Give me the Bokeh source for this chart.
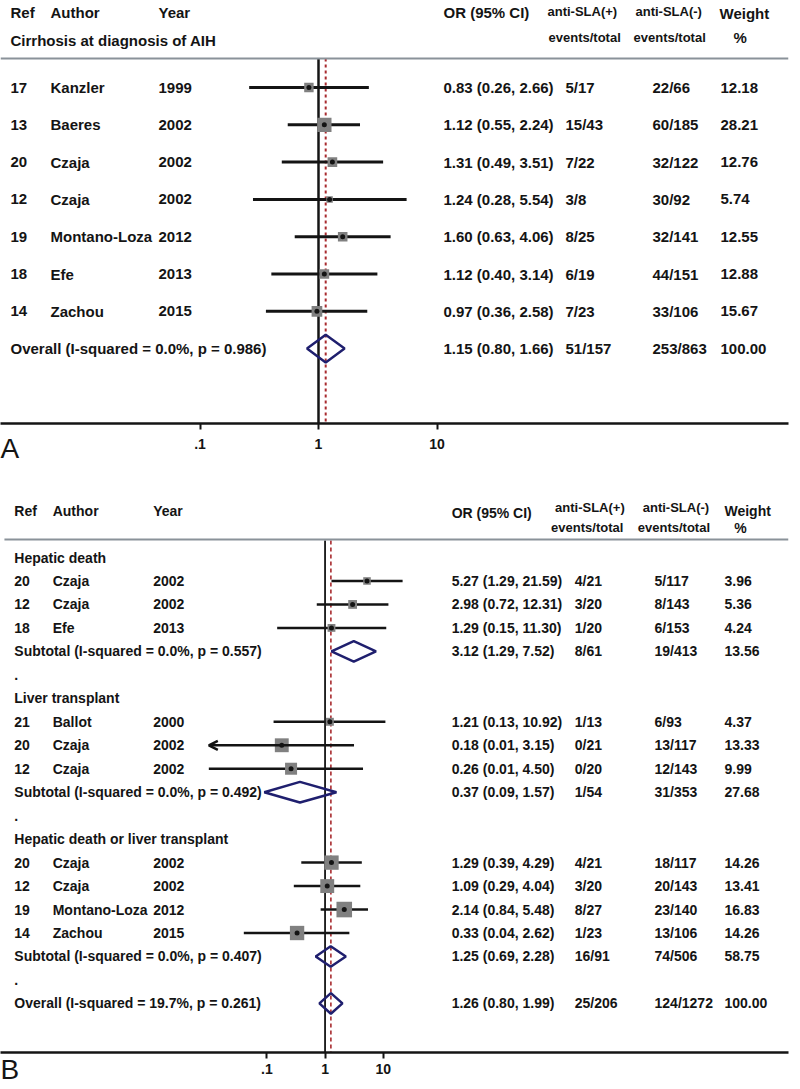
import numpy as np
from bokeh.plotting import figure
from bokeh.models import (Range1d, ColumnDataSource, FixedTicker, CustomJSTickFormatter,
                          Title, Arrow, OpenHead)
from bokeh.layouts import column
from bokeh.embed import file_html
from bokeh.resources import INLINE
from bokeh.core.properties import value

FONT = "Liberation Sans"
INK = "#141414"
NAVY = "#1f1f6e"
RED = "#a82a2e"
GREY = "#808080"
RULE = "#8a9299"

# ---------------- shared axis ----------------
ticks = [0.1, 1, 10]
tick_labels = [".1", "1", "10"]
panel_letters = ["A", "B"]

# ---------------- Panel A data ----------------
a_title = "Cirrhosis at diagnosis of AIH"
a_ref = ["17", "13", "20", "12", "19", "18", "14"]
a_author = ["Kanzler", "Baeres", "Czaja", "Czaja", "Montano-Loza", "Efe", "Zachou"]
a_year = ["1999", "2002", "2002", "2002", "2012", "2013", "2015"]
a_or = [0.83, 1.12, 1.31, 1.24, 1.60, 1.12, 0.97]
a_lci = [0.26, 0.55, 0.49, 0.28, 0.63, 0.40, 0.36]
a_uci = [2.66, 2.24, 3.51, 5.54, 4.06, 3.14, 2.58]
a_pos = ["5/17", "15/43", "7/22", "3/8", "8/25", "6/19", "7/23"]
a_neg = ["22/66", "60/185", "32/122", "30/92", "32/141", "44/151", "33/106"]
a_weight = [12.18, 28.21, 12.76, 5.74, 12.55, 12.88, 15.67]
a_ov_label = "Overall  (I-squared = 0.0%, p = 0.986)"
a_ov_or, a_ov_lci, a_ov_uci = 1.15, 0.80, 1.66
a_ov_pos, a_ov_neg, a_ov_w = "51/157", "253/863", 100.00

# ---------------- Panel B data ----------------
b_groups = ["Hepatic death", "Liver transplant", "Hepatic death or liver transplant"]
b_ref = [["20", "12", "18"], ["21", "20", "12"], ["20", "12", "19", "14"]]
b_author = [["Czaja", "Czaja", "Efe"], ["Ballot", "Czaja", "Czaja"],
            ["Czaja", "Czaja", "Montano-Loza", "Zachou"]]
b_year = [["2002", "2002", "2013"], ["2000", "2002", "2002"], ["2002", "2002", "2012", "2015"]]
b_or = [[5.27, 2.98, 1.29], [1.21, 0.18, 0.26], [1.29, 1.09, 2.14, 0.33]]
b_lci = [[1.29, 0.72, 0.15], [0.13, 0.01, 0.01], [0.39, 0.29, 0.84, 0.04]]
b_uci = [[21.59, 12.31, 11.30], [10.92, 3.15, 4.50], [4.29, 4.04, 5.48, 2.62]]
b_clipped = [[False, False, False], [False, True, False], [False, False, False, False]]
b_pos = [["4/21", "3/20", "1/20"], ["1/13", "0/21", "0/20"], ["4/21", "3/20", "8/27", "1/23"]]
b_neg = [["5/117", "8/143", "6/153"], ["6/93", "13/117", "12/143"],
         ["18/117", "20/143", "23/140", "13/106"]]
b_weight = [[3.96, 5.36, 4.24], [4.37, 13.33, 9.99], [14.26, 13.41, 16.83, 14.26]]
b_sub_label = ["Subtotal  (I-squared = 0.0%, p = 0.557)",
               "Subtotal  (I-squared = 0.0%, p = 0.492)",
               "Subtotal  (I-squared = 0.0%, p = 0.407)"]
b_sub_or = [3.12, 0.37, 1.25]
b_sub_lci = [1.29, 0.09, 0.69]
b_sub_uci = [7.52, 1.57, 2.28]
b_sub_pos = ["8/61", "1/54", "16/91"]
b_sub_neg = ["19/413", "31/353", "74/506"]
b_sub_w = [13.56, 27.68, 58.75]
b_ov_label = "Overall  (I-squared = 19.7%, p = 0.261)"
b_ov_or, b_ov_lci, b_ov_uci = 1.26, 0.80, 1.99
b_ov_pos, b_ov_neg, b_ov_w = "25/206", "124/1272", 100.00


def fmt_ci(o, l, u):
    return f"{o:.2f} ({l:.2f}, {u:.2f})"


def make_panel(g):
    """g: layout geometry in page pixels."""
    px2x = lambda px: 10 ** ((px - g["x_one"]) / g["dec"])
    py2y = lambda py: (py - g["row0"]) / g["step"]
    xr = Range1d(px2x(g["left"]), px2x(g["right"]))
    yr = Range1d(py2y(g["bottom"]), py2y(g["top"]))
    p = figure(width=800, height=g["fig_h"], x_axis_type="log", x_range=xr, y_range=yr,
               output_backend="svg", toolbar_location=None, y_axis_location=None,
               min_border_left=0, min_border_right=g["mbr"], min_border_top=0,
               min_border_bottom=g["mbb"])
    p.outline_line_color = None
    p.grid.visible = False
    p.background_fill_color = "white"
    p.border_fill_color = "white"
    ax = p.xaxis[0]
    ax.ticker = FixedTicker(ticks=ticks)
    ax.formatter = CustomJSTickFormatter(args=dict(v=ticks, l=tick_labels), code="""
        const i = v.findIndex(t => Math.abs(Math.log10(t) - Math.log10(tick)) < 1e-6);
        return i >= 0 ? l[i] : '';""")
    ax.axis_line_width = g["axw"]
    ax.axis_line_color = INK
    ax.major_tick_in = 0
    ax.major_tick_out = 6
    ax.major_tick_line_width = 2
    ax.major_tick_line_color = INK
    ax.minor_tick_line_color = None
    ax.major_label_text_font = FONT
    ax.major_label_text_font_size = "14px"
    ax.major_label_text_font_style = "bold"
    ax.major_label_text_color = INK
    ax.major_label_standoff = g["standoff"]
    # panel letter, tucked up beside the tick labels
    p.add_layout(Title(text=g["letter"], align="left", vertical_align="top",
                       standoff=g["letter_standoff"], offset=0, text_font=FONT,
                       text_font_size="28px", text_font_style="normal",
                       text_color=INK), "below")
    return p, px2x, py2y


def put_text(p, px2x, x_px, ys, texts, fs, style="bold"):
    src = ColumnDataSource(dict(x=[px2x(x_px)] * len(ys), y=list(ys), t=list(texts)))
    p.text(x="x", y="y", text="t", source=src, text_font=value(FONT),
           text_font_size=value(fs), text_font_style=style, text_color=INK,
           text_baseline="middle", text_align="left")


def draw_studies(p, rows, ors, lcis, ucis, weights, k, lw, clipped=None):
    if clipped is None:
        clipped = [False] * len(rows)
    seg = ColumnDataSource(dict(
        x0=[l for l, c in zip(lcis, clipped) if not c],
        x1=[u for u, c in zip(ucis, clipped) if not c],
        y=[r for r, c in zip(rows, clipped) if not c]))
    p.segment(x0="x0", y0="y", x1="x1", y1="y", source=seg, line_color=INK, line_width=lw)
    if any(clipped):
        arr = ColumnDataSource(dict(
            xs=[u for u, c in zip(ucis, clipped) if c],
            xe=[l for l, c in zip(lcis, clipped) if c],
            y=[r for r, c in zip(rows, clipped) if c]))
        p.add_layout(Arrow(source=arr, x_start="xs", y_start="y", x_end="xe", y_end="y",
                           line_color=INK, line_width=lw,
                           end=OpenHead(size=9, line_width=lw, line_color=INK)))
    sq = ColumnDataSource(dict(x=ors, y=rows, s=[k * np.sqrt(w) for w in weights]))
    p.scatter(x="x", y="y", size="s", marker="square", source=sq,
              fill_color=GREY, line_color=None)
    p.scatter(x=ors, y=rows, size=5, marker="circle", fill_color=INK, line_color=None)


def draw_diamonds(p, rows, ors, lcis, ucis, h, lw):
    xs = [[l, o, u, o] for o, l, u in zip(ors, lcis, ucis)]
    ys = [[r, r - h, r, r + h] for r in rows]
    p.patches(xs=xs, ys=ys, fill_color=None, line_color=NAVY, line_width=lw)


# ====================== PANEL A ======================
GA = dict(x_one=318, dec=118.5, left=0, right=788, top=0, bottom=423, row0=87, step=37.3,
          fig_h=478, mbr=12, mbb=55, standoff=9, axw=2.5,
          letter=panel_letters[0], letter_standoff=-38)
pa, ax_a, ay_a = make_panel(GA)
na = len(a_ref)
a_rows = list(range(na))
a_ov_row = na

# reference lines
pa.segment(x0=[1], y0=[ay_a(58)], x1=[1], y1=[ay_a(423)], line_color=INK, line_width=2.5)
pa.segment(x0=[a_ov_or], y0=[ay_a(58)], x1=[a_ov_or], y1=[ay_a(423)], line_color=RED,
           line_width=2, line_dash="3 3")
pa.segment(x0=[ax_a(0)], y0=[ay_a(58)], x1=[ax_a(788)], y1=[ay_a(58)], line_color=RULE,
           line_width=2)

draw_studies(pa, a_rows, a_or, a_lci, a_uci, a_weight, 2.7, 3)
draw_diamonds(pa, [a_ov_row], [a_ov_or], [a_ov_lci], [a_ov_uci], 0.37, 2.5)

FA = "15px"
FAH = "13px"
# headers
put_text(pa, ax_a, 10, [ay_a(12)], ["Ref"], FA)
put_text(pa, ax_a, 50, [ay_a(12)], ["Author"], FA)
put_text(pa, ax_a, 158, [ay_a(12)], ["Year"], FA)
put_text(pa, ax_a, 443, [ay_a(12)], ["OR (95% CI)"], FA)
put_text(pa, ax_a, 547, [ay_a(11)], ["anti-SLA(+)"], FAH)
put_text(pa, ax_a, 635, [ay_a(11)], ["anti-SLA(-)"], FAH)
put_text(pa, ax_a, 719, [ay_a(13)], ["Weight"], FA)
put_text(pa, ax_a, 10, [ay_a(40)], [a_title], FA)
put_text(pa, ax_a, 548, [ay_a(37)], ["events/total"], FAH)
put_text(pa, ax_a, 633, [ay_a(37)], ["events/total"], FAH)
put_text(pa, ax_a, 733, [ay_a(37)], ["%"], FA)
# rows
put_text(pa, ax_a, 10, a_rows + [a_ov_row], a_ref + [a_ov_label], FA)
put_text(pa, ax_a, 50, a_rows, a_author, FA)
put_text(pa, ax_a, 158, a_rows, a_year, FA)
put_text(pa, ax_a, 443, a_rows + [a_ov_row],
         [fmt_ci(o, l, u) for o, l, u in zip(a_or, a_lci, a_uci)] +
         [fmt_ci(a_ov_or, a_ov_lci, a_ov_uci)], FA)
put_text(pa, ax_a, 565, a_rows + [a_ov_row], a_pos + [a_ov_pos], FA)
put_text(pa, ax_a, 652, a_rows + [a_ov_row], a_neg + [a_ov_neg], FA)
put_text(pa, ax_a, 720, a_rows + [a_ov_row], [f"{w:.2f}" for w in a_weight + [a_ov_w]], FA)

# ====================== PANEL B ======================
GB = dict(x_one=329.5, dec=59, left=0, right=800, top=478, bottom=1052, row0=557,
          step=23.47, fig_h=611, mbr=0, mbb=37, standoff=5, axw=2.5,
          letter=panel_letters[1], letter_standoff=-46)
pb, ax_b, ay_b = make_panel(GB)

pb.segment(x0=[1], y0=[ay_b(540)], x1=[1], y1=[ay_b(1052)], line_color=INK, line_width=1.8)
pb.segment(x0=[b_ov_or], y0=[ay_b(540)], x1=[b_ov_or], y1=[ay_b(1052)], line_color=RED,
           line_width=1.6, line_dash="4 3")
pb.segment(x0=[ax_b(4)], y0=[ay_b(539)], x1=[ax_b(800)], y1=[ay_b(539)], line_color=RULE,
           line_width=2)

FB = "14px"
FBH = "13px"
put_text(pb, ax_b, 14, [ay_b(510)], ["Ref"], FB)
put_text(pb, ax_b, 53, [ay_b(510)], ["Author"], FB)
put_text(pb, ax_b, 155, [ay_b(510)], ["Year"], FB)
put_text(pb, ax_b, 458, [ay_b(512)], ["OR (95% CI)"], FB)
put_text(pb, ax_b, 563, [ay_b(507)], ["anti-SLA(+)"], FBH)
put_text(pb, ax_b, 652, [ay_b(507)], ["anti-SLA(-)"], FBH)
put_text(pb, ax_b, 735, [ay_b(510)], ["Weight"], FB)
put_text(pb, ax_b, 559, [ay_b(527)], ["events/total"], FBH)
put_text(pb, ax_b, 647, [ay_b(527)], ["events/total"], FBH)
put_text(pb, ax_b, 745, [ay_b(527)], ["%"], FB)

row = 0
c0_y, c0_t = [], []
for gi, gname in enumerate(b_groups):
    c0_y.append(row); c0_t.append(gname)
    row += 1
    srows = list(range(row, row + len(b_ref[gi])))
    row += len(b_ref[gi])
    draw_studies(pb, srows, b_or[gi], b_lci[gi], b_uci[gi], b_weight[gi], 3.8, 2.5,
                 b_clipped[gi])
    c0_y += srows; c0_t += b_ref[gi]
    put_text(pb, ax_b, 53, srows, b_author[gi], FB)
    put_text(pb, ax_b, 155, srows, b_year[gi], FB)
    put_text(pb, ax_b, 458, srows + [row],
             [fmt_ci(o, l, u) for o, l, u in zip(b_or[gi], b_lci[gi], b_uci[gi])] +
             [fmt_ci(b_sub_or[gi], b_sub_lci[gi], b_sub_uci[gi])], FB)
    put_text(pb, ax_b, 583, srows + [row], b_pos[gi] + [b_sub_pos[gi]], FB)
    put_text(pb, ax_b, 664, srows + [row], b_neg[gi] + [b_sub_neg[gi]], FB)
    put_text(pb, ax_b, 735, srows + [row],
             [f"{w:.2f}" for w in b_weight[gi] + [b_sub_w[gi]]], FB)
    draw_diamonds(pb, [row], [b_sub_or[gi]], [b_sub_lci[gi]], [b_sub_uci[gi]], 0.44, 2.5)
    c0_y.append(row); c0_t.append(b_sub_label[gi])
    row += 1
    c0_y.append(row); c0_t.append(".")
    row += 1

ov_row = row
draw_diamonds(pb, [ov_row], [b_ov_or], [b_ov_lci], [b_ov_uci], 0.44, 2.5)
c0_y.append(ov_row); c0_t.append(b_ov_label)
put_text(pb, ax_b, 14, c0_y, c0_t, FB)
put_text(pb, ax_b, 458, [ov_row], [fmt_ci(b_ov_or, b_ov_lci, b_ov_uci)], FB)
put_text(pb, ax_b, 583, [ov_row], [b_ov_pos], FB)
put_text(pb, ax_b, 664, [ov_row], [b_ov_neg], FB)
put_text(pb, ax_b, 735, [ov_row], [f"{b_ov_w:.2f}"], FB)

layout = column(pa, pb, spacing=0)
open("out.html", "w").write(file_html(layout, INLINE))
